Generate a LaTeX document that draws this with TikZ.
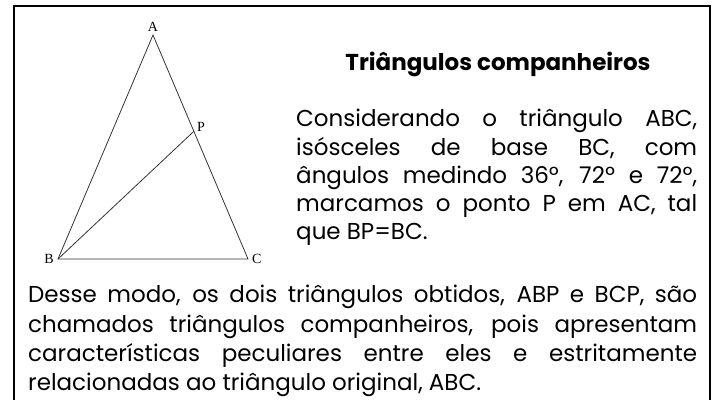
\documentclass[tikz,border=0pt]{standalone}
\usepackage{fontspec}
\setmainfont{Poppins}
\newfontfamily\labelfont{Liberation Serif}
\usetikzlibrary{calc,positioning}

\begin{document}
\begin{tikzpicture}[x=1pt,y=-1pt,
frame/.style={draw=black,line width=2pt},
side/.style={draw=black!80,line width=0.8pt},
vertex/.style={font=\labelfont\fontsize{14}{14}\selectfont,inner sep=0pt},
title/.style={font=\bfseries\fontsize{23}{23}\selectfont,inner sep=0pt},
bodytext/.style={
anchor=north west,
inner sep=0pt,
align=justify,
font=\fontsize{23}{28.3}\selectfont}]
\useasboundingbox (0,0) rectangle (719,399);

% frame, open at the bottom
\coordinate (fbl) at (14,405);
\coordinate (fbr) at (710,405);
\draw[frame] (fbl) -- (14,6) -- (710,6) -- (fbr);

% the triangle
\coordinate (A) at (153,35);
\coordinate (B) at (58,259);
\coordinate (C) at (248,259);
\coordinate (P) at ($(A)!0.43!(C)$);
\draw[side] (A) -- (B) -- (C) -- cycle;
\draw[side] (B) -- (P);
\node[vertex,above=3pt of A](la){A};
\node[vertex,left=4pt of B](lb){B};
\node[vertex,right=4pt of C](lc){C};
\node[vertex,above right=0pt and 3pt of P](lp){P};

% texts
\node[title](t) at (498,70) [anchor=base] {Triângulos companheiros};
\node[bodytext,text width=401pt](p1) at (296,109)
{Considerando o triângulo ABC,\linebreak isósceles de base BC, com\linebreak ângulos medindo 36º, 72º e 72º,\linebreak marcamos o ponto P em AC, tal\linebreak que BP=BC.};
\node[bodytext,text width=669pt,font=\fontsize{23}{29.3}\selectfont](p2) at (28,285)
{Desse modo, os dois triângulos obtidos, ABP e BCP, são\linebreak chamados triângulos companheiros, pois apresentam\linebreak características peculiares entre eles e estritamente\linebreak relacionadas ao triângulo original, ABC.};
\end{tikzpicture}
\end{document}
